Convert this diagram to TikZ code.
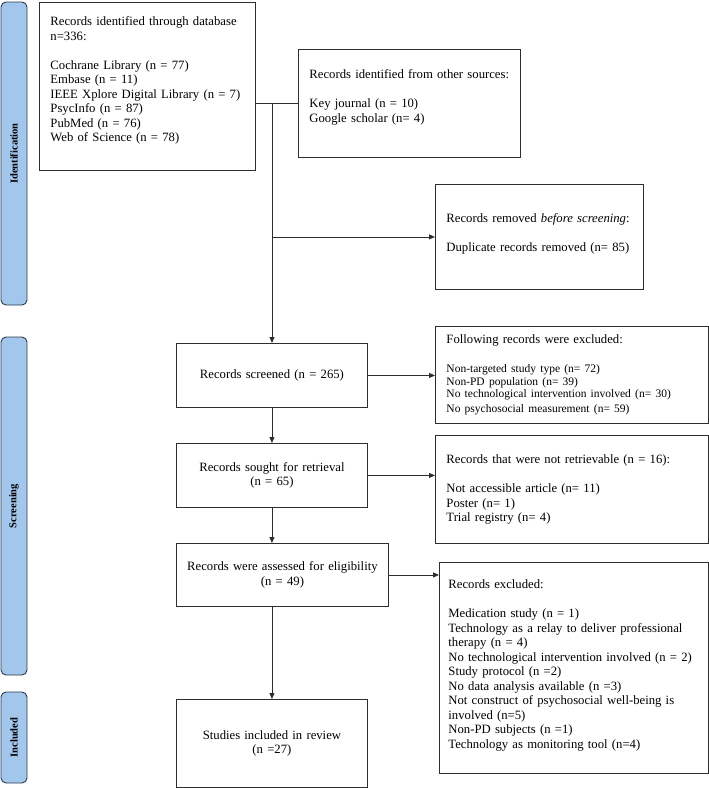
\documentclass[tikz,border=0pt]{standalone}
\usepackage{fontspec}
\setmainfont{Liberation Serif}
\usetikzlibrary{arrows.meta,positioning}
\definecolor{phasefill}{RGB}{163,198,236}
\definecolor{phaseline}{RGB}{44,58,76}
\definecolor{boxline}{RGB}{45,45,45}

\begin{document}
\begin{tikzpicture}[x=1pt, y=-1pt,
                    box/.style={draw=boxline, line width=0.9pt, rectangle,
                                anchor=north west, inner xsep=11pt,
                                font=\fontsize{12.7}{14.5}\selectfont},
                    leftbox/.style={box, align=left},
                    midbox/.style={box, align=center},
                    phase/.style={draw=phaseline, fill=phasefill, line width=0.9pt,
                                  rounded corners=5pt, rotate=90,
                                  minimum height=26pt, inner sep=0pt,
                                  font=\fontsize{10.5}{12}\selectfont\bfseries},
                    link/.style={draw=boxline, line width=0.8pt},
                    flow/.style={link, -{Triangle[length=6pt,width=5pt]}}]
    \useasboundingbox (0,0) rectangle (709,788);

    % phases
    \node[phase, minimum width=303pt] (identification) at (14,153.5) {Identification};
    \node[phase, minimum width=338pt] (screening) at (14,506) {Screening};
    \node[phase, minimum width=91pt] (included) at (14,737.5) {Included};

    % identification
    \node[leftbox, text width=194pt, minimum height=168pt] (database) at (39,2)
        {Records identified through database\\
         n=336:\\[14.5pt]
         Cochrane Library (n = 77)\\
         Embase (n = 11)\\
         IEEE Xplore Digital Library (n = 7)\\
         PsycInfo (n = 87)\\
         PubMed (n = 76)\\
         Web of Science (n = 78)\\
         \mbox{}};
    \node[leftbox, text width=200pt, minimum height=108pt] (other) at (298,49)
        {Records identified from other sources:\\[14.5pt]
         Key journal (n = 10)\\
         Google scholar (n= 4)\\
         \mbox{}};
    \node[leftbox, text width=186pt, minimum height=105pt] (removed) at (435,184)
        {Records removed \textit{before screening}:\\[14.5pt]
         Duplicate records removed (n= 85)\\[-6pt]
         \mbox{}};

    % screening
    \node[midbox, text width=169pt, minimum height=64pt] (screened) at (176,343)
        {Records screened (n = 265)};
    \node[leftbox, text width=251pt, minimum height=97pt] (following) at (435,326)
        {Following records were excluded:\\[16.5pt]\fontsize{11.5}{12.5}\selectfont
         Non-targeted study type (n= 72)\\
         Non-PD population (n= 39)\\
         No technological intervention involved (n= 30)\\
         No psychosocial measurement (n= 59)};
    \node[midbox, text width=169pt, minimum height=64pt] (sought) at (176,443)
        {Records sought for retrieval\\
         (n = 65)};
    \node[leftbox, text width=251pt, minimum height=108pt] (notretrieved) at (435,435)
        {Records that were not retrievable (n = 16):\\[15pt]
         Not accessible article (n= 11)\\
         Poster (n= 1)\\
         Trial registry (n= 4)};
    \node[midbox, text width=206pt, minimum height=63pt, inner xsep=3pt] (assessed) at (176,543)
        {Records were assessed for eligibility\\
         (n = 49)};
    \node[leftbox, text width=251pt, minimum height=211pt, inner xsep=9pt] (excluded) at (439,562)
        {Records excluded:\\[15pt]
         Medication study (n = 1)\\
         Technology as a relay to deliver professional\\
         therapy (n = 4)\\
         No technological intervention involved (n = 2)\\
         Study protocol (n =2)\\
         No data analysis available (n =3)\\
         Not construct of psychosocial well-being is\\
         involved (n=5)\\
         Non-PD subjects (n =1)\\
         Technology as monitoring tool (n=4)\\[-6pt]
         \mbox{}};

    % included
    \node[midbox, text width=169pt, minimum height=88pt] (studies) at (176,699)
        {Studies included in review\\
         (n =27)};

    % connectors
    \coordinate (join) at (272,103);
    \draw[link] (database.east |- join) -- (other.west |- join);
    \draw[flow] (join) -- (join |- screened.north);
    \draw[flow] (join |- removed.west) -- (removed.west);
    \draw[flow] (screened.east) -- (screened.east -| following.west);
    \draw[flow] (screened.south) -- (sought.north);
    \draw[flow] (sought.east) -- (sought.east -| notretrieved.west);
    \draw[flow] (sought.south) -- (sought.south |- assessed.north);
    \draw[flow] (assessed.east) -- (assessed.east -| excluded.west);
    \draw[flow] (studies.north |- assessed.south) -- (studies.north);
\end{tikzpicture}
\end{document}
